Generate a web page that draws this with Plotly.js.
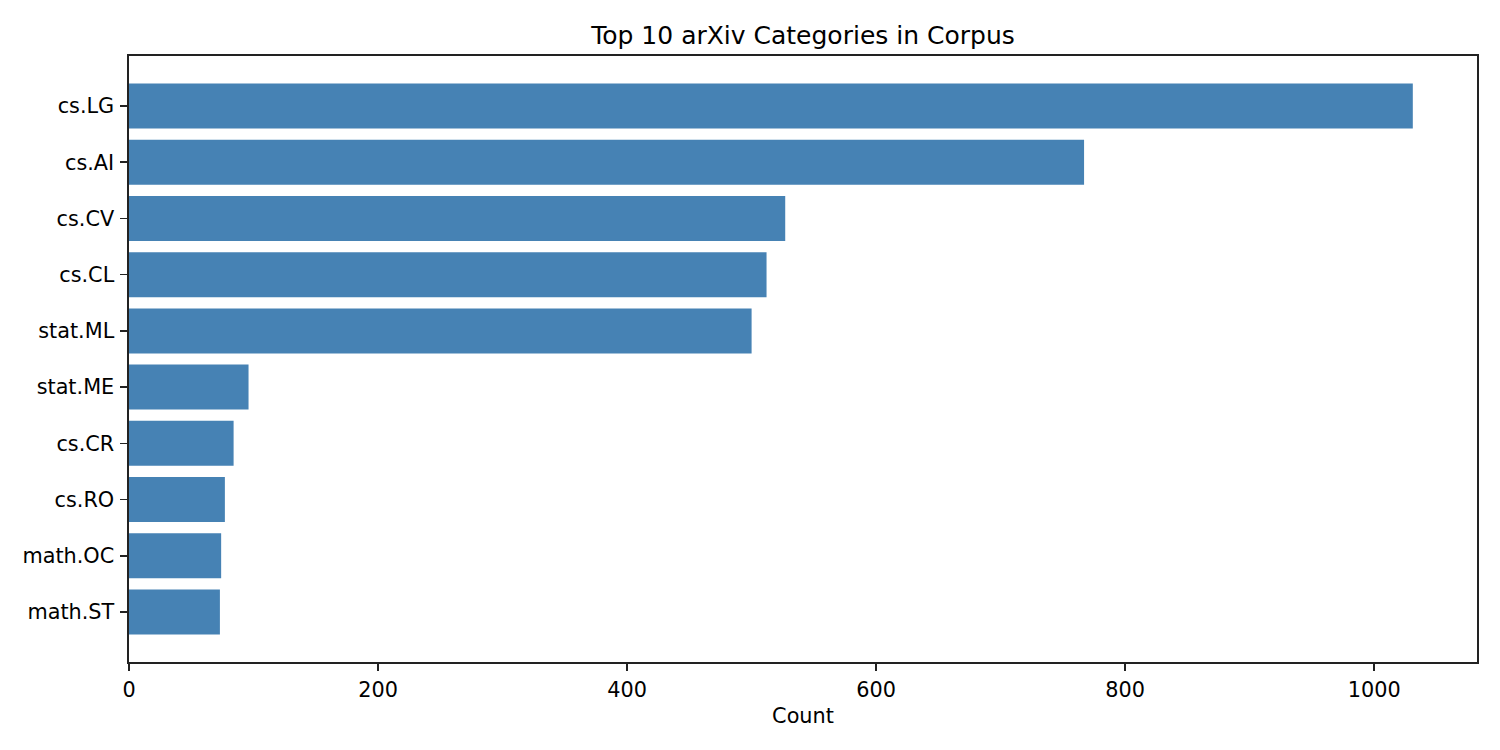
<!DOCTYPE html>
<html>
<head>
<meta charset="utf-8">
<script src="https://cdn.plot.ly/plotly-3.0.1.min.js"></script>
<style>
  html, body { margin: 0; padding: 0; background: #fff; }
  #chart { width: 1500px; height: 750px; }
</style>
</head>
<body>
<div id="chart"></div>
<script>
var categories = ["cs.LG", "cs.AI", "cs.CV", "cs.CL", "stat.ML",
                  "stat.ME", "cs.CR", "cs.RO", "math.OC", "math.ST"];
var counts = [1031, 767, 527, 512, 500, 96, 84, 77, 74, 73];
var xTicks = [0, 200, 400, 600, 800, 1000];

var maxCount = Math.max.apply(null, counts);

var trace = {
    type: "bar",
    orientation: "h",
    x: counts,
    y: categories,
    width: 0.8,
    marker: {color: "#4682b4"},
    hoverinfo: "x+y"
};

var font = {family: "DejaVu Sans, sans-serif", size: 20.8, color: "#000"};

var layout = {
    width: 1500,
    height: 750,
    margin: {l: 129, r: 23, t: 56, b: 88},
    paper_bgcolor: "#fff",
    plot_bgcolor: "#fff",
    font: font,
    showlegend: false,
    title: {
        text: "Top 10 arXiv Categories in Corpus",
        font: {family: "DejaVu Sans, sans-serif", size: 25, color: "#000"},
        x: 0.5, xref: "paper",
        y: 1, yref: "paper", yanchor: "bottom",
        pad: {b: 12}
    },
    xaxis: {
        range: [0, maxCount * 1.05],
        tickvals: xTicks,
        ticktext: xTicks.map(String),
        ticks: "outside",
        ticklen: 7,
        tickwidth: 1.6,
        tickcolor: "#222",
        ticklabelstandoff: 1,
        showgrid: false,
        zeroline: false,
        showline: true,
        linecolor: "#222",
        linewidth: 1.6,
        mirror: true,
        tickfont: font,
        title: {text: "Count", font: font, standoff: 8}
    },
    yaxis: {
        type: "category",
        categoryorder: "array",
        categoryarray: categories,
        range: [9.89, -0.89],
        ticks: "outside",
        ticklen: 7,
        tickwidth: 1.6,
        tickcolor: "#222",
        ticklabelstandoff: 2,
        showgrid: false,
        zeroline: false,
        showline: true,
        linecolor: "#222",
        linewidth: 1.6,
        mirror: true,
        tickfont: font
    }
};

Plotly.newPlot("chart", [trace], layout, {displayModeBar: false, staticPlot: true});
</script>
</body>
</html>
